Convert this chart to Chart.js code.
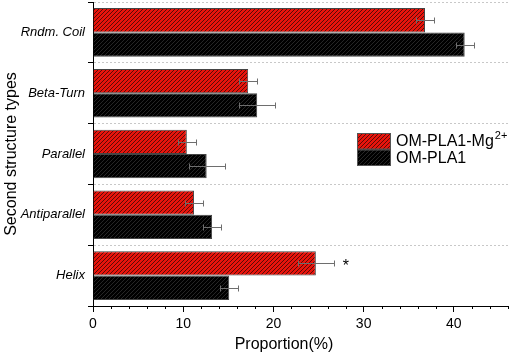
<!DOCTYPE html>
<html>
<head>
<meta charset="utf-8">
<script src="https://cdn.jsdelivr.net/npm/chart.js@4.4.1/dist/chart.umd.min.js"></script>
<style>
  html, body { margin: 0; padding: 0; background: #fff; }
  #wrap { width: 510px; height: 357px; }
</style>
</head>
<body>
<div id="wrap"><canvas id="chart" width="510" height="357"></canvas></div>
<script>
// data
const structureTypes = ["Rndm. Coil", "Beta-Turn", "Parallel", "Antiparallel", "Helix"];
const seriesNames = ["OM-PLA1-Mg", "OM-PLA1"];
const mgValues = [36.8, 17.2, 10.4, 11.2, 24.7];
const mgErrors = [1.0, 1.0, 1.0, 1.0, 2.0];
const plainValues = [41.2, 18.2, 12.6, 13.2, 15.1];
const plainErrors = [1.0, 2.0, 2.0, 1.0, 1.0];
const xTicks = [0, 10, 20, 30, 40];
const starredIndex = 4; // Helix, Mg series

const FONT = "'Liberation Sans', Arial, sans-serif";

function hatch(bg, line) {
    const c = document.createElement('canvas');
    c.width = 4; c.height = 4;
    const g = c.getContext('2d');
    g.fillStyle = bg;
    g.fillRect(0, 0, 4, 4);
    g.strokeStyle = line;
    g.lineWidth = 1;
    g.beginPath();
    g.moveTo(0, 4); g.lineTo(4, 0);
    g.moveTo(-1, 1); g.lineTo(1, -1);
    g.moveTo(3, 5); g.lineTo(5, 3);
    g.stroke();
    return g.createPattern(c, 'repeat');
}

const redHatch = hatch('#e8140c', '#5a0a06');
const blackHatch = hatch('#000000', '#262626');

const extras = {
    id: 'extras',
    afterDatasetsDraw(chart) {
        const ctx = chart.ctx;
        const xs = chart.scales.x;
        const errs = [mgErrors, plainErrors];
        ctx.save();
        ctx.strokeStyle = '#6e6e6e';
        ctx.lineWidth = 1;
        chart.data.datasets.forEach((ds, di) => {
            const meta = chart.getDatasetMeta(di);
            meta.data.forEach((bar, i) => {
                const v = ds.data[i], e = errs[di][i];
                const x1 = Math.round(xs.getPixelForValue(v - e)) + 0.5;
                const x2 = Math.round(xs.getPixelForValue(v + e)) + 0.5;
                const y = Math.round(bar.y) + 0.5;
                ctx.beginPath();
                ctx.moveTo(x1, y); ctx.lineTo(x2, y);
                ctx.moveTo(x1, y - 3); ctx.lineTo(x1, y + 3);
                ctx.moveTo(x2, y - 3); ctx.lineTo(x2, y + 3);
                ctx.stroke();
            });
        });
        // significance star
        const sb = chart.getDatasetMeta(0).data[starredIndex];
        const sx = xs.getPixelForValue(mgValues[starredIndex] + mgErrors[starredIndex]) + 12;
        ctx.fillStyle = '#000';
        ctx.font = '16px ' + FONT;
        ctx.textAlign = 'center';
        ctx.textBaseline = 'middle';
        ctx.fillText('*', sx, sb.y + 3);
        ctx.restore();
    },
    afterDraw(chart) {
        const ctx = chart.ctx;
        const xs = chart.scales.x;
        const area = chart.chartArea;
        ctx.save();
        // minor ticks on x axis
        ctx.strokeStyle = '#000';
        ctx.lineWidth = 1;
        ctx.beginPath();
        for (let v = 2; v <= xs.max; v += 2) {
            if (v % 10 === 0) continue;
            const px = Math.round(xs.getPixelForValue(v)) + 0.5;
            ctx.moveTo(px, area.bottom);
            ctx.lineTo(px, area.bottom + 3);
        }
        ctx.stroke();

        // x axis title
        ctx.fillStyle = '#000';
        ctx.font = '16px ' + FONT;
        ctx.textAlign = 'center';
        ctx.textBaseline = 'middle';
        ctx.fillText('Proportion(%)', 284, 345);

        // legend
        const fills = [redHatch, blackHatch];
        seriesNames.forEach((name, i) => {
            const top = 133 + i * 16.5;
            ctx.fillStyle = fills[i];
            ctx.fillRect(357, top, 34, 16.5);
            ctx.strokeStyle = '#555';
            ctx.strokeRect(357.5, top + 0.5, 33, 15.5);
            ctx.fillStyle = '#000';
            ctx.textAlign = 'left';
            ctx.font = '16px ' + FONT;
            ctx.fillText(name, 396, top + 9);
            if (i === 0) {
                const w = ctx.measureText(name).width;
                ctx.font = '11px ' + FONT;
                ctx.fillText('2+', 396 + w + 1, top + 3);
            }
        });
        ctx.restore();
    }
};

new Chart(document.getElementById('chart'), {
    type: 'bar',
    data: {
        labels: structureTypes,
        datasets: [
            {
                label: seriesNames[0] + '2+',
                data: mgValues,
                backgroundColor: redHatch,
                borderColor: '#444',
                borderWidth: 1,
            },
            {
                label: seriesNames[1],
                data: plainValues,
                backgroundColor: blackHatch,
                borderColor: '#444',
                borderWidth: 1,
            },
        ],
    },
    options: {
        indexAxis: 'y',
        responsive: false,
        animation: false,
        categoryPercentage: 0.8,
        barPercentage: 1.0,
        layout: { padding: { top: 2, right: 2, left: 0, bottom: 0 } },
        plugins: {
            legend: { display: false },
            tooltip: { enabled: false },
        },
        scales: {
            x: {
                type: 'linear',
                min: 0,
                max: 46,
                afterBuildTicks: (s) => { s.ticks = xTicks.map(v => ({ value: v })); },
                afterFit: (s) => { s.height = 51; s.paddingRight = 0; },
                ticks: {
                    color: '#000',
                    font: { size: 14, family: FONT },
                    padding: 4,
                },
                grid: {
                    drawOnChartArea: false,
                    tickLength: 6,
                    tickColor: '#000',
                },
                border: { color: '#000', width: 1 },
            },
            y: {
                afterFit: (s) => { s.width = 93; s.paddingTop = 0; s.paddingBottom = 0; },
                ticks: {
                    color: '#000',
                    font: { size: 13, family: FONT, style: 'italic' },
                    padding: 3,
                },
                grid: {
                    offset: true,
                    color: '#c8c8c8',
                    tickColor: '#000',
                    tickLength: 5,
                    tickBorderDash: [],
                },
                border: { color: '#000', width: 1, dash: [2, 2] },
                title: {
                    display: true,
                    text: 'Second structure types',
                    color: '#000',
                    font: { size: 16, family: FONT },
                    padding: { top: 2, bottom: 0 },
                },
            },
        },
    },
    plugins: [extras],
});
</script>
</body>
</html>
